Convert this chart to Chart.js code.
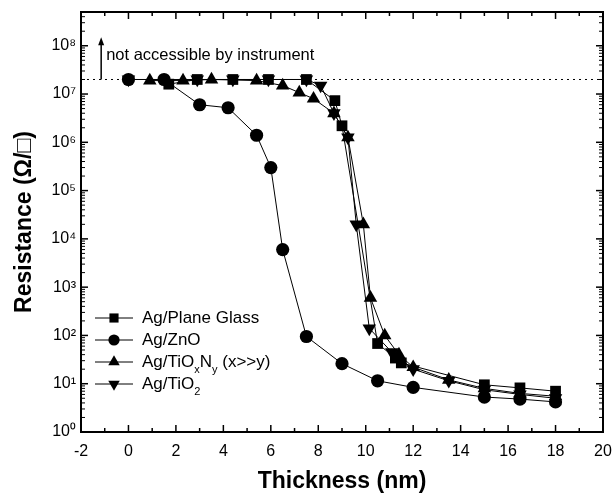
<!DOCTYPE html>
<html>
<head>
<meta charset="utf-8">
<script src="https://cdn.jsdelivr.net/npm/chart.js@4/dist/chart.umd.min.js"></script>
<style>
html,body{margin:0;padding:0;background:#fff;}
canvas{display:block;}
</style>
</head>
<body>
<canvas id="c" width="615" height="499"></canvas>
<script>
// ---- data ----
const seriesNames = ['Ag/Plane Glass', 'Ag/ZnO', 'Ag/TiOxNy (x>>y)', 'Ag/TiO2'];

const glassX = [1.7, 2.9, 4.4, 5.9, 7.5, 8.7, 9.0, 10.5, 11.25, 11.5, 15, 16.5, 18];
const glassY = [1.6e7, 2e7, 2e7, 2e7, 2e7, 7.3e6, 2.2e6, 68, 34, 27, 9.5, 8.2, 7];

const znoX = [0, 1.5, 3, 4.2, 5.4, 6, 6.5, 7.5, 9, 10.5, 12, 15, 16.5, 18];
const znoY = [2e7, 2e7, 6e6, 5.2e6, 1.4e6, 3e5, 6e3, 95, 26, 11.5, 8.4, 5.3, 4.8, 4.2];

const tionX = [0.9, 2.3, 3.5, 5.4, 6.5, 7.2, 7.8, 8.66, 9.25, 9.9, 10.2, 10.8, 11.4, 12, 13.5, 15, 16.5, 18];
const tionY = [1.9e7, 1.9e7, 2e7, 1.9e7, 1.5e7, 1.07e7, 8e6, 4e6, 1.26e6, 2e4, 600, 100, 40, 22, 12, 8, 6.3, 5.5];

const tio2X = [0, 2.9, 4.4, 5.9, 7.5, 8.1, 8.66, 9.25, 9.6, 10.15, 11.1, 12, 13.5, 15, 16.5, 18];
const tio2Y = [2e7, 2e7, 2e7, 2e7, 2e7, 1.5e7, 4e6, 1.26e6, 2e4, 140, 45, 20, 11.5, 7.5, 6, 5];

const limitY = 2e7;            // instrument limit (dotted line)
const arrowX = -1.15;          // x position of the arrow
const arrowTopY = 1.5e8;
const noteY = 6.4e7;
const noteText = 'not accessible by instrument';

const xTicks = [-2, 0, 2, 4, 6, 8, 10, 12, 14, 16, 18, 20];
const yTicks = [1, 10, 100, 1e3, 1e4, 1e5, 1e6, 1e7, 1e8];
const sup = ['⁰','¹','²','³','⁴','⁵','⁶','⁷','⁸','⁹'];

const FONT = "'Liberation Sans', Arial, Helvetica, sans-serif";

function pts(xs, ys){ return xs.map((x,i)=>({x:x, y:ys[i]})); }

const markers = [
  {style:'rect', radius:7.6, rotation:0},
  {style:'circle', radius:6.6, rotation:0},
  {style:'triangle', radius:7.8, rotation:0},
  {style:'triangle', radius:7.8, rotation:180}
];
const seriesData = [pts(glassX,glassY), pts(znoX,znoY), pts(tionX,tionY), pts(tio2X,tio2Y)];

const datasets = seriesData.map((d,i)=>({
  label: seriesNames[i],
  data: d,
  borderColor:'#000',
  backgroundColor:'#000',
  borderWidth:1,
  pointStyle: markers[i].style,
  pointRadius: markers[i].radius,
  pointRotation: markers[i].rotation,
  pointBorderWidth:0,
  pointBackgroundColor:'#000',
  tension:0,
  order: 4-i
}));
datasets.push({
  label:'limit',
  data:[{x:-2,y:limitY},{x:20,y:limitY}],
  borderColor:'#000',
  borderWidth:1,
  borderDash:[2,4],
  pointRadius:0,
  order:10
});

function drawMarker(ctx, m, x, y, r){
  ctx.beginPath();
  if (m.style === 'circle') {
    ctx.arc(x, y, r, 0, Math.PI*2);
  } else if (m.style === 'rect') {
    const s = Math.SQRT1_2 * r;
    ctx.rect(x-s, y-s, 2*s, 2*s);
  } else {
    const dir = m.rotation === 180 ? -1 : 1;
    const rad0 = -Math.PI/2 * dir;
    for (let k=0;k<3;k++){
      const a = rad0 + k*2*Math.PI/3;
      const px = x + Math.cos(a)*r, py = y + Math.sin(a)*r;
      if (k===0) ctx.moveTo(px,py); else ctx.lineTo(px,py);
    }
    ctx.closePath();
  }
  ctx.fill();
}

const decor = {
  id:'decor',
  afterDatasetsDraw(chart){
    const {ctx, chartArea:a, scales:{x, y}} = chart;
    ctx.save();
    ctx.strokeStyle = '#000';
    ctx.fillStyle = '#000';
    const line = (x1,y1,x2,y2)=>{ctx.beginPath();ctx.moveTo(x1,y1);ctx.lineTo(x2,y2);ctx.stroke();};

    // x ticks (inward, bottom and top)
    ctx.lineWidth = 1.5;
    for (let v = x.min; v <= x.max + 1e-9; v += 1) {
      const p = x.getPixelForValue(v);
      const L = (Math.round(v) % 2 === 0) ? 7 : 4;
      line(p, a.bottom, p, a.bottom - L);
      line(p, a.top, p, a.top + L);
    }
    // y ticks (inward, left and right)
    for (let d = 0; d <= 8; d++) {
      for (let m = 1; m <= 9; m++) {
        const v = m * Math.pow(10, d);
        if (v > y.max) break;
        const p = y.getPixelForValue(v);
        const L = m === 1 ? 7 : 4;
        ctx.lineWidth = m === 1 ? 1.5 : 1;
        line(a.left, p, a.left + L, p);
        line(a.right, p, a.right - L, p);
      }
    }
    // frame
    ctx.lineWidth = 2;
    ctx.strokeRect(a.left, a.top, a.right - a.left, a.bottom - a.top);

    // arrow + note
    const ax = x.getPixelForValue(arrowX);
    const ay0 = y.getPixelForValue(limitY);
    const ay1 = y.getPixelForValue(arrowTopY);
    ctx.lineWidth = 1.5;
    line(ax, ay0, ax, ay1 + 4);
    ctx.beginPath();
    ctx.moveTo(ax, ay1);
    ctx.lineTo(ax - 3, ay1 + 8);
    ctx.lineTo(ax + 3, ay1 + 8);
    ctx.closePath();
    ctx.fill();
    ctx.font = '16.5px ' + FONT;
    ctx.textBaseline = 'middle';
    ctx.textAlign = 'left';
    ctx.fillText(noteText, ax + 5, y.getPixelForValue(noteY));

    // legend
    const lx0 = 95, lx1 = 133, lxm = 114, tx = 142;
    const rows = [318, 340, 362, 384];
    const fs = 17;
    rows.forEach((ry, i) => {
      ctx.lineWidth = 1;
      line(lx0, ry, lx1, ry);
      drawMarker(ctx, markers[i], lxm, ry, markers[i].radius * 0.85);
      ctx.font = fs + 'px ' + FONT;
      ctx.textBaseline = 'middle';
      let cx = tx;
      const put = (t, sub) => {
        if (sub) {
          ctx.font = '11px ' + FONT;
          ctx.fillText(t, cx, ry + 8);
          cx += ctx.measureText(t).width;
          ctx.font = fs + 'px ' + FONT;
        } else {
          ctx.fillText(t, cx, ry);
          cx += ctx.measureText(t).width;
        }
      };
      if (i === 0) put('Ag/Plane Glass');
      else if (i === 1) put('Ag/ZnO');
      else if (i === 2) { put('Ag/TiO'); put('x', true); put('N'); put('y', true); put(' (x>>y)'); }
      else { put('Ag/TiO'); put('2', true); }
    });
    ctx.restore();
  }
};

new Chart(document.getElementById('c'), {
  type:'line',
  data:{datasets:datasets},
  options:{
    responsive:false,
    animation:false,
    devicePixelRatio:1,
    layout:{padding:{top:12, right:12, left:0, bottom:0}},
    plugins:{legend:{display:false}, tooltip:{enabled:false}},
    scales:{
      x:{
        type:'linear', min:-2, max:20,
        afterFit(s){ s.height = 67; s.paddingLeft = 0; s.paddingRight = 0; },
        afterBuildTicks(s){ s.ticks = xTicks.map(v=>({value:v})); },
        ticks:{color:'#000', font:{family:FONT, size:16}, padding:10, maxRotation:0, callback:v=>String(v)},
        grid:{display:false, drawTicks:false},
        border:{display:false},
        title:{display:true, text:'Thickness (nm)', color:'#000', font:{family:FONT, size:23, weight:'bold'}, padding:{top:0, bottom:4}}
      },
      y:{
        type:'logarithmic', min:1, max:5e8,
        afterFit(s){ s.width = 81; s.paddingTop = 0; s.paddingBottom = 0; },
        afterBuildTicks(s){ s.ticks = yTicks.map(v=>({value:v})); },
        ticks:{color:'#000', font:{family:FONT, size:16}, padding:5,
          callback:v=>'10' + sup[Math.round(Math.log10(v))]},
        grid:{display:false, drawTicks:false},
        border:{display:false},
        title:{display:true, text:'Resistance (Ω/□)', color:'#000', font:{family:FONT, size:23, weight:'bold'}, padding:{top:11, bottom:0}}
      }
    }
  },
  plugins:[decor]
});
</script>
</body>
</html>
